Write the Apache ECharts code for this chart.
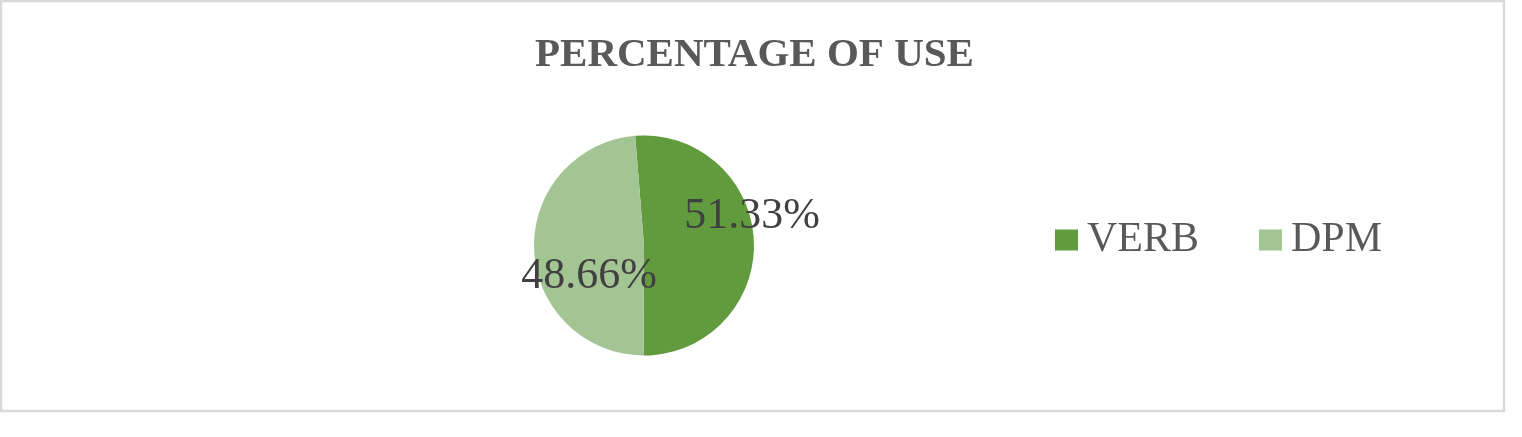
<!DOCTYPE html>
<html>
<head>
<meta charset="utf-8">
<script src="https://cdn.jsdelivr.net/npm/echarts@6/dist/echarts.min.js"></script>
<style>
  html, body { margin: 0; padding: 0; background: #ffffff; }
  #chart { width: 1522px; height: 437px; }
</style>
</head>
<body>
<div id="chart"></div>
<script>
const titleText = 'PERCENTAGE OF USE';
const categories = ['VERB', 'DPM'];
const values = [51.33, 48.66];
const colors = ['#619B3D', '#A3C593'];

const labelOffsets = [[50, -27], [3, 29]];

const chart = echarts.init(document.getElementById('chart'), null, { renderer: 'canvas' });
const serif = '"Liberation Serif", "DejaVu Serif", serif';

chart.setOption({
  animation: false,
  backgroundColor: '#ffffff',
  title: {
    text: titleText,
    left: 530,
    top: 30,
    textStyle: { fontFamily: serif, fontWeight: 'bold', fontSize: 41, color: '#595959' }
  },
  graphic: [{
    type: 'rect',
    shape: { x: 1, y: 1, width: 1503, height: 410 },
    style: { fill: 'none', stroke: '#d9d9d9', lineWidth: 2.5 },
    silent: true
  }],
  legend: {
    data: categories,
    left: 1055,
    top: 219,
    padding: 0,
    orient: 'horizontal',
    icon: 'rect',
    itemWidth: 23,
    itemHeight: 21,
    itemGap: 60,
    textStyle: { fontFamily: serif, fontSize: 42, color: '#595959', padding: [0, 0, 0, 4] }
  },
  series: [{
    type: 'pie',
    center: [644, 245.5],
    radius: 110,
    startAngle: 94.6,
    clockwise: true,
    avoidLabelOverlap: false,
    itemStyle: { borderWidth: 0 },
    label: {
      show: true,
      position: 'inside',
      fontFamily: serif,
      fontSize: 44,
      color: '#404040',
      formatter: p => p.value.toFixed(2) + '%'
    },
    labelLine: { show: false },
    emphasis: { disabled: true },
    data: categories.map((c, i) => ({
      name: c,
      value: values[i],
      itemStyle: { color: colors[i] },
      label: { offset: labelOffsets[i] }
    }))
  }]
});
</script>
</body>
</html>
